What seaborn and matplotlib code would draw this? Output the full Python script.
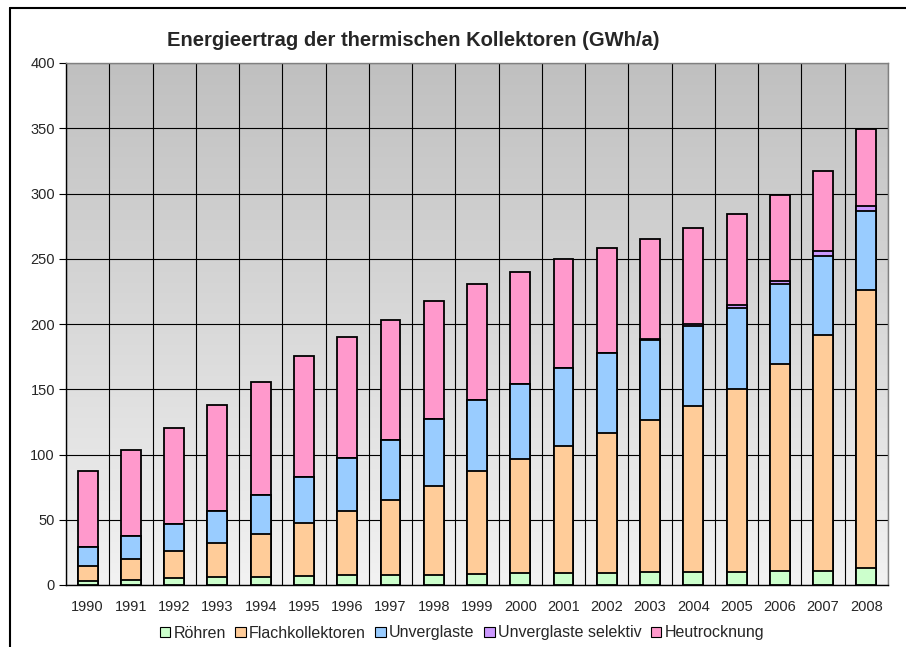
import numpy as np
import pandas as pd
import matplotlib
matplotlib.use("Agg")
import matplotlib.pyplot as plt
import seaborn as sns
from matplotlib.colors import LinearSegmentedColormap
from matplotlib.lines import Line2D
from matplotlib.patches import Patch

years = [str(y) for y in range(1990, 2009)]
roehren = [3.3, 4.1, 5.1, 5.8, 6.4, 6.9, 7.4, 7.7, 7.9, 8.2, 8.9, 9.2, 9.4, 9.7, 9.7, 10.2, 10.4, 11.0, 12.7]
flach = [11.5, 15.8, 20.7, 26.1, 32.7, 40.3, 49.0, 57.7, 68.2, 78.9, 87.4, 97.1, 106.8, 116.5, 127.8, 140.3, 158.6, 180.7, 213.2]
unverglaste = [14.6, 17.7, 20.7, 24.8, 29.6, 35.9, 41.2, 45.8, 50.9, 54.8, 58.1, 60.1, 61.7, 61.9, 61.1, 61.4, 61.3, 60.3, 60.4]
selektiv = [0, 0, 0, 0, 0, 0, 0, 0, 0, 0, 0, 0, 0, 0.6, 1.5, 2.5, 3.0, 3.6, 4.2]
heu = [58.3, 65.6, 73.6, 81.0, 87.2, 92.7, 92.3, 92.0, 90.5, 88.4, 85.6, 83.1, 80.4, 76.6, 73.1, 69.6, 65.8, 61.6, 59.2]

series = ["Röhren", "Flachkollektoren", "Unverglaste", "Unverglaste selektiv", "Heutrocknung"]
colors = ["#ccffcc", "#ffcc99", "#99ccff", "#cc99ff", "#ff99cc"]

df = pd.DataFrame({"Jahr": years, "Röhren": roehren, "Flachkollektoren": flach,
                   "Unverglaste": unverglaste, "Unverglaste selektiv": selektiv,
                   "Heutrocknung": heu})
cum = df[series].cumsum(axis=1)

sns.set_style("white")
plt.rcParams["font.family"] = ["Liberation Sans", "DejaVu Sans"]

fig = plt.figure(figsize=(9.06, 6.47), dpi=100)
ax = fig.add_axes([66 / 906, 1 - 585 / 647, 822 / 906, 522 / 647])

# gradient background of the plot area
bg = LinearSegmentedColormap.from_list("bg", ["#c0c0c0", "#f2f2f2"])
ax.imshow(np.linspace(0, 1, 256).reshape(-1, 1), cmap=bg, aspect="auto",
          extent=[-0.5, len(years) - 0.5, 0, 400], origin="upper", zorder=0)

# stacked bars: draw cumulative totals from the top layer down
for name, c in reversed(list(zip(series, colors))):
    sns.barplot(x=df["Jahr"], y=cum[name], color=c, saturation=1, width=0.46,
                edgecolor="black", linewidth=1.3, errorbar=None, ax=ax, zorder=3)

ax.set_xlim(-0.5, len(years) - 0.5)
ax.set_ylim(0, 400)
ax.set_yticks(range(0, 401, 50))
ax.set_xticks(np.arange(-0.5, len(years), 1), minor=True)
ax.yaxis.grid(True, color="black", lw=0.8, zorder=1)
ax.xaxis.grid(True, which="minor", color="black", lw=0.8, zorder=1)
ax.xaxis.grid(False, which="major")
ax.set_axisbelow(True)
ax.set_xlabel("")
ax.set_ylabel("")
ax.tick_params(axis="y", length=5, width=0.8, color="black", labelsize=10.5, pad=3, left=True)
ax.tick_params(axis="x", which="both", length=0, labelsize=10.5, pad=11)
for s in ["left", "bottom"]:
    ax.spines[s].set_color("black")
    ax.spines[s].set_linewidth(1)
for s in ["top", "right"]:
    ax.spines[s].set_color("#808080")
    ax.spines[s].set_linewidth(1)

fig.text(413 / 906, 1 - 41 / 647, "Energieertrag der thermischen Kollektoren (GWh/a)",
         ha="center", va="center", fontsize=14.5, fontweight="bold")

handles = [Patch(facecolor=c, edgecolor="black", lw=0.8, label=n) for n, c in zip(series, colors)]
fig.legend(handles=handles, loc="center", bbox_to_anchor=(462 / 906, 1 - 633 / 647), ncol=5,
           frameon=False, fontsize=11.5, handlelength=0.65, handleheight=0.65,
           handletextpad=0.2, columnspacing=0.6, borderpad=0)

# outer chart frame (left and top edges visible)
fig.add_artist(Line2D([10 / 906, 10 / 906], [0, 1 - 8 / 647], color="black", lw=1.5,
                      transform=fig.transFigure))
fig.add_artist(Line2D([10 / 906, 1], [1 - 8 / 647, 1 - 8 / 647], color="black", lw=1.5,
                      transform=fig.transFigure))

fig.savefig("out.png", dpi=100)
